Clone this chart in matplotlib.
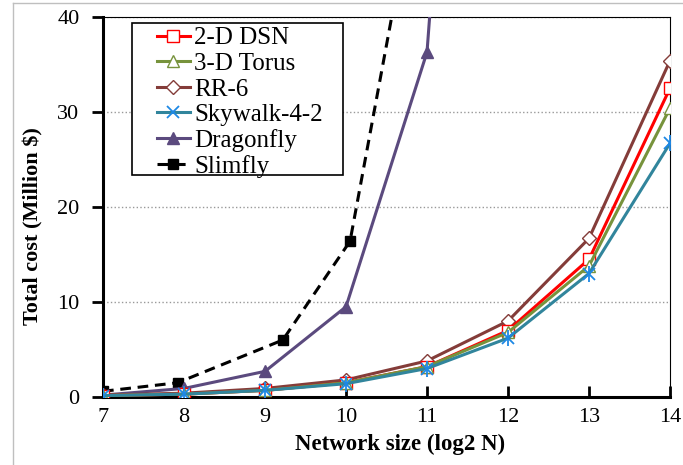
import matplotlib.pyplot as plt
from matplotlib.patches import Rectangle
from matplotlib.lines import Line2D

plt.rcParams['font.family'] = ['Liberation Serif', 'DejaVu Serif']

sizes = [7, 8, 9, 10, 11, 12, 13, 14]
dsn = [0.15, 0.3, 0.7, 1.5, 3.2, 7.0, 14.5, 32.5]
torus = [0.15, 0.3, 0.7, 1.5, 3.2, 6.8, 13.8, 30.4]
rr6 = [0.2, 0.4, 0.9, 1.8, 3.8, 8.0, 16.7, 35.4]
skywalk = [0.15, 0.3, 0.7, 1.4, 3.0, 6.2, 13.0, 26.7]
dragon_x = [7, 8, 9, 10, 11, 12]
dragonfly = [0.2, 0.9, 2.7, 9.5, 36.3, 150]
slim_x = [7, 7.92, 9.22, 10.05, 11.0]
slimfly = [0.6, 1.5, 6.0, 16.4, 60]

W, H = 683, 465
fig = plt.figure(figsize=(W / 100, H / 100), dpi=100)
ax = fig.add_axes([103/W, 1-397/H, (670-103)/W, (397-17)/H])

# thin grey border of the original picture
fig.add_artist(Line2D([12.5/W, 1], [1-3.5/H, 1-3.5/H], color='#BFBFBF', lw=1))
fig.add_artist(Line2D([12.5/W, 12.5/W], [0, 1-3.5/H], color='#BFBFBF', lw=1))

ax.plot(slim_x, slimfly, color='black', ls=(0, (3.5, 2.2)), lw=2.2,
        marker='s', ms=7, label='Slimfly', zorder=3)
ax.plot(dragon_x, dragonfly, color='#5B4A7E', lw=2.2, marker='^', ms=8,
        label='Dragonfly', zorder=4)
ax.plot(sizes, rr6, color='#843C39', lw=2.2, marker='D', ms=7,
        mfc='white', mec='#843C39', label='RR-6', zorder=5)
ax.plot(sizes, dsn, color='#FF0000', lw=2.2, marker='s', ms=8,
        mfc='white', mec='#FF0000', label='2-D DSN', zorder=6)
ax.plot(sizes, torus, color='#77933C', lw=2.2, marker='^', ms=9,
        mfc='white', mec='#77933C', label='3-D Torus', zorder=7)
ax.plot(sizes, skywalk, color='#31859C', lw=2.2, marker='x', ms=9,
        mec='#1E88E5', mew=1.3, zorder=8)
ax.plot(sizes, skywalk, ls='none', marker='|', ms=12, mec='#1E88E5',
        mew=1.3, zorder=8)
sky_handle = Line2D([], [], color='#31859C', lw=2.2, marker='x', ms=9,
                    mec='#1E88E5', mew=1.3)

ax.set_xlim(7, 14)
ax.set_ylim(0, 40)
ax.set_xticks(sizes)
ax.set_yticks([0, 10, 20, 30, 40])
ax.yaxis.grid(True, color='#999999', ls=':', lw=1)
ax.set_axisbelow(True)
ax.tick_params(axis='x', direction='in', length=8, width=2, labelsize=16, pad=8)
ax.tick_params(axis='y', direction='out', length=8, width=2, labelsize=16, pad=9)
for s in ['left', 'bottom']:
    ax.spines[s].set_linewidth(2.2)
for s in ['top', 'right']:
    ax.spines[s].set_linewidth(0.8)

ax.set_xlabel('Network size (log2 N)', fontsize=16.5, fontweight='bold')
ax.xaxis.set_label_coords((400-103)/(670-103), -(444-397)/(397-17), transform=ax.transAxes)
ax.xaxis.label.set_va('center')
ax.set_ylabel('Total cost (Million $)', fontsize=16, fontweight='bold')
ax.yaxis.set_label_coords(-(103-33)/(670-103), (397-226)/(397-17), transform=ax.transAxes)
ax.yaxis.label.set_va('center')

h, l = ax.get_legend_handles_labels()
lookup = dict(zip(l, h))
lookup['Skywalk-4-2'] = sky_handle
order = ['2-D DSN', '3-D Torus', 'RR-6', 'Skywalk-4-2', 'Dragonfly', 'Slimfly']
hs = [lookup[o] for o in order]
leg = ax.legend(hs, order, loc='upper left',
                bbox_to_anchor=((152-103)/(670-103), 1-(22-17)/(397-17)),
                fontsize=18, frameon=False, handlelength=1.3,
                handletextpad=0.2, labelspacing=0.12, borderpad=0.2,
                borderaxespad=0)
leg.set_zorder(20)
box = Rectangle(((132-103)/(670-103), 1-(175-17)/(397-17)),
                (343-132)/(670-103), (175-23)/(397-17), transform=ax.transAxes,
                facecolor='white', edgecolor='black', lw=1.2, zorder=19)
ax.add_patch(box)

fig.savefig('out.png', dpi=100)
